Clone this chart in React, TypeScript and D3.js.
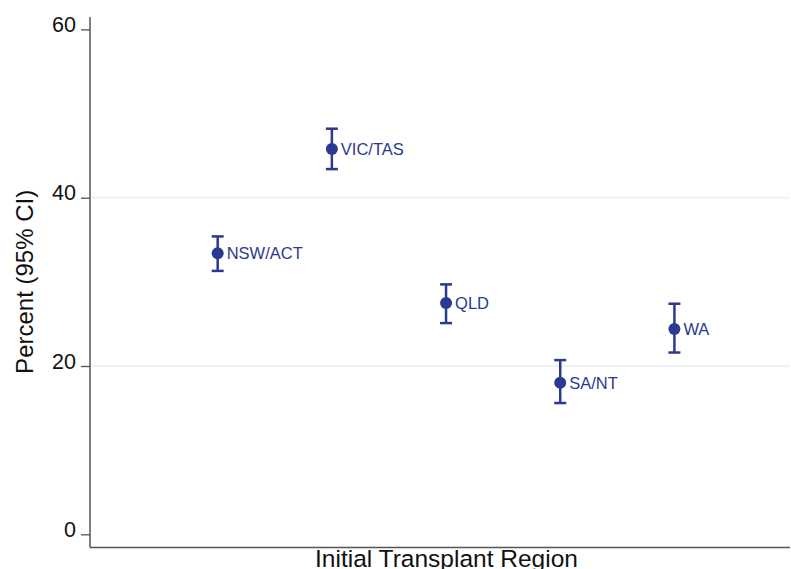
import { useEffect, useRef } from "react"
import * as d3 from "d3"

const regions = ["NSW/ACT", "VIC/TAS", "QLD", "SA/NT", "WA"]
const percent = [33.4, 45.8, 27.5, 18.0, 24.4]
const lower = [31.3, 43.4, 25.1, 15.6, 21.6]
const upper = [35.4, 48.2, 29.7, 20.7, 27.4]
const yTicks = [0, 20, 40, 60]
const gridTicks = [20, 40]

const W = 791
const H = 569
const navy = "#2b3990"
const font = "'Liberation Sans', Arial, sans-serif"

const App = () => {
  const svgRef = useRef<SVGSVGElement | null>(null)

  useEffect(() => {
    const svg = d3.select(svgRef.current)
    svg.selectAll("*").remove()

    const margin = { left: 90, right: 1, top: 17, bottom: 547.5 }

    const x = d3.scaleLinear().domain([0, 6]).range([103.5, 788.6])
    const y = d3.scaleLinear().domain([0, 60]).range([534.3, 29.4])

    // light gridlines
    svg
      .selectAll(".grid")
      .data(gridTicks)
      .enter()
      .append("line")
      .attr("x1", margin.left)
      .attr("x2", W - margin.right)
      .attr("y1", (d) => y(d))
      .attr("y2", (d) => y(d))
      .attr("stroke", "#e8eef3")
      .attr("stroke-width", 1.3)

    // y axis
    const yAxis = d3.axisLeft(y).tickValues(yTicks).tickSize(9).tickPadding(5)
    const gy = svg
      .append("g")
      .attr("transform", `translate(${margin.left},0)`)
      .call(yAxis)
    gy.select(".domain").remove()
    gy.selectAll("line").attr("stroke", "#555").attr("stroke-width", 1.3)
    gy.selectAll("text")
      .attr("fill", "#111")
      .style("font-family", font)
      .style("font-size", "21.5px")
      .attr("dy", "0.1em")

    svg
      .append("line")
      .attr("x1", margin.left)
      .attr("x2", margin.left)
      .attr("y1", margin.top)
      .attr("y2", margin.bottom)
      .attr("stroke", "#555")
      .attr("stroke-width", 1.5)

    // x axis line
    svg
      .append("line")
      .attr("x1", margin.left)
      .attr("x2", W - margin.right)
      .attr("y1", margin.bottom)
      .attr("y2", margin.bottom)
      .attr("stroke", "#555")
      .attr("stroke-width", 1.5)

    // axis titles
    svg
      .append("text")
      .attr("x", (margin.left + W) / 2 + 6)
      .attr("y", 567)
      .attr("text-anchor", "middle")
      .style("font-family", font)
      .style("font-size", "24.5px")
      .attr("fill", "#111")
      .text("Initial Transplant Region")

    svg
      .append("text")
      .attr("transform", `translate(33,${(y(0) + y(60)) / 2}) rotate(-90)`)
      .attr("text-anchor", "middle")
      .style("font-family", font)
      .style("font-size", "24px")
      .attr("fill", "#111")
      .text("Percent (95% CI)")

    const rows = regions.map((r, i) => ({
      region: r,
      i: i + 1,
      v: percent[i],
      lo: lower[i],
      hi: upper[i],
    }))

    const g = svg.selectAll(".pt").data(rows).enter().append("g")

    // error bars
    g.append("line")
      .attr("x1", (d) => x(d.i))
      .attr("x2", (d) => x(d.i))
      .attr("y1", (d) => y(d.lo))
      .attr("y2", (d) => y(d.hi))
      .attr("stroke", navy)
      .attr("stroke-width", 2.5)
    g.selectAll(".cap")
      .data((d) => [
        { i: d.i, v: d.lo },
        { i: d.i, v: d.hi },
      ])
      .enter()
      .append("line")
      .attr("x1", (d) => x(d.i) - 6)
      .attr("x2", (d) => x(d.i) + 6)
      .attr("y1", (d) => y(d.v))
      .attr("y2", (d) => y(d.v))
      .attr("stroke", navy)
      .attr("stroke-width", 2.5)

    g.append("circle")
      .attr("cx", (d) => x(d.i))
      .attr("cy", (d) => y(d.v))
      .attr("r", 6)
      .attr("fill", navy)

    g.append("text")
      .attr("x", (d) => x(d.i) + 9)
      .attr("y", (d) => y(d.v))
      .attr("dy", "0.36em")
      .style("font-family", font)
      .style("font-size", "16.5px")
      .attr("fill", navy)
      .text((d) => d.region)
  }, [])

  return (
    <svg
      ref={svgRef}
      width={W}
      height={H}
      style={{ position: "absolute", left: 0, top: 0, background: "#fff" }}
    />
  )
}

export default App
